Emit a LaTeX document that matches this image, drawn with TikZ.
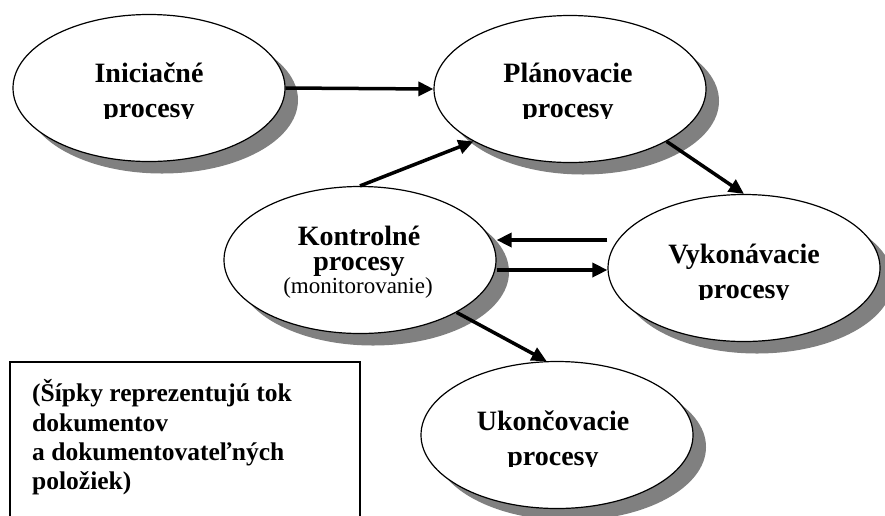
\documentclass[tikz,border=0pt]{standalone}
\usepackage{fontspec}
\setmainfont{Liberation Serif}
\usetikzlibrary{shapes.geometric,shadows,arrows.meta}
\definecolor{shadowgray}{RGB}{128,128,128}
\begin{document}
\begin{tikzpicture}[x=1pt,y=-1pt,
  proc/.style={ellipse, draw=black, line width=1.2pt, fill=white,
    minimum width=272pt, minimum height=147pt, inner sep=0pt,
    drop shadow={shadow xshift=13pt, shadow yshift=-12pt, fill=shadowgray, opacity=1}},
  tl/.style={font=\bfseries\fontsize{28}{34}\selectfont, inner sep=0pt, anchor=base},
  sub/.style={font=\fontsize{23}{28}\selectfont, inner sep=0pt, anchor=base},
  arr/.style={line width=3.5pt, -{Triangle[length=15pt,width=14pt]}},
  note/.style={font=\bfseries\fontsize{25.5}{29}\selectfont, inner sep=0pt, anchor=base west},
  boxline/.style={line width=1.3pt}]
\useasboundingbox[fill=white] (0,0) rectangle (885,515);

% ellipses
\node[proc] (ini) at (149,88) {};
\node[proc] (pla) at (570,89) {};
\node[proc] (kon) at (360,260) {};
\node[proc] (vyk) at (744,268) {};
\node[proc] (uko) at (557,435) {};

% texts
\node[tl] (ini1) at (149,82) {Iniciačné};
\begin{scope}
  \clip (40,90) rectangle (260,118.5);
  \node[tl] (ini2) at (149,117) {procesy};
\end{scope}
\node[tl] (pla1) at (568,82) {Plánovacie};
\begin{scope}
  \clip (460,90) rectangle (680,118.5);
  \node[tl] (pla2) at (568,117) {procesy};
\end{scope}
\node[tl, align=center, font=\bfseries\fontsize{28}{25}\selectfont] (kon1) at (359,270) {Kontrolné\\procesy};
\node[sub] (kon3) at (358,293) {(monitorovanie)};
\node[tl] (vyk1) at (744,263) {Vykonávacie};
\begin{scope}
  \clip (630,270) rectangle (860,299.5);
  \node[tl] (vyk2) at (744,298) {procesy};
\end{scope}
\node[tl] (uko1) at (553,430) {Ukončovacie};
\begin{scope}
  \clip (440,437) rectangle (670,466.5);
  \node[tl] (uko2) at (553,465) {procesy};
\end{scope}

% arrows
\draw[arr] (ini.east) -- (pla.west);
\draw[arr] (kon.north) -- (pla.south west);
\draw[arr] (pla.south east) -- (vyk.north);
\draw[arr] ([yshift=28pt]vyk.west) -- ([yshift=28pt]vyk.west -| kon.east);
\draw[arr] ([yshift=-2pt]vyk.west -| kon.east) -- ([yshift=-2pt]vyk.west);
\draw[arr] (kon.south east) -- (uko.98);

% note box
\draw[boxline] (10,530) -- (10,362) -- (360,362) -- (360,530);
\node[note] (n1) at (32,401) {(Šípky reprezentujú tok};
\node[note] (n2) at (32,431) {dokumentov};
\node[note] (n3) at (32,460) {a dokumentovateľných};
\node[note] (n4) at (32,489) {položiek)};
\end{tikzpicture}
\end{document}
